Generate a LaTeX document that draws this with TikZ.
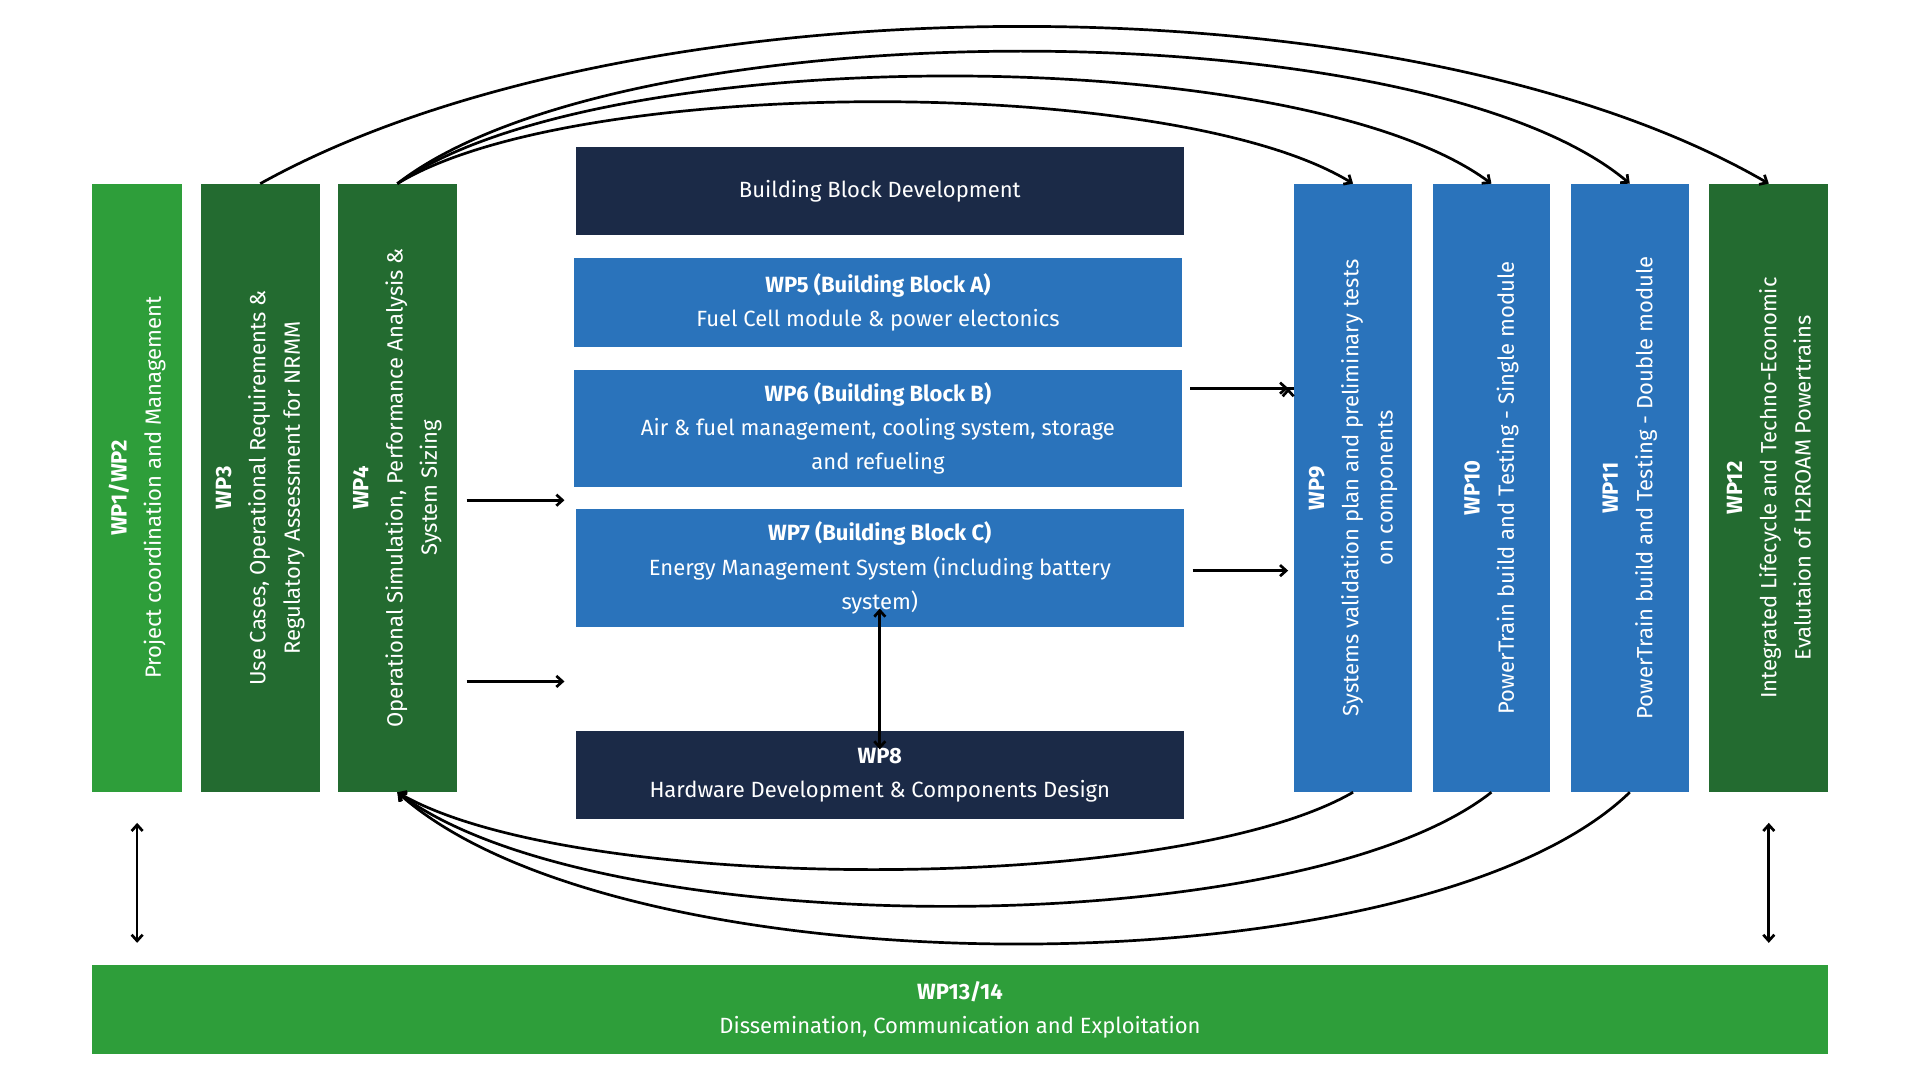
\documentclass[tikz,border=0pt]{standalone}
\usepackage{fontspec}
\setmainfont{Fira Sans}
\usetikzlibrary{arrows.meta}
\definecolor{lgreen}{HTML}{2E9E3A}
\definecolor{dgreen}{HTML}{236B30}
\definecolor{navy}{HTML}{1B2A47}
\definecolor{wblue}{HTML}{2A73BB}
\begin{document}
\begin{tikzpicture}[x=1pt,y=-1pt,
  box/.style={inner sep=0,outer sep=0,anchor=north west},
  txt/.style={text=white,align=center,font=\fontsize{18}{28}\selectfont},
  vtxt/.style={txt,rotate=90},
  arr/.style={line width=2.2pt,-{Straight Barb[length=5pt,width=9pt]}},
  darr/.style={line width=2.2pt,{Straight Barb[length=5pt,width=9pt]}-{Straight Barb[length=5pt,width=9pt]}}]
\useasboundingbox (0,0) rectangle (1568,882);
\newcommand{\bx}[6]{\node[box,fill=#6,minimum width=#3pt,minimum height=#4pt] (#5) at (#1,#2) {};}
\bx{75}{150}{74}{497}{wp1}{lgreen}
\bx{164}{150}{97}{497}{wp3}{dgreen}
\bx{276}{150}{97}{497}{wp4}{dgreen}
\bx{470}{120}{497}{72}{bbd}{navy}
\bx{469}{211}{496}{72}{wp5}{wblue}
\bx{469}{302}{496}{96}{wp6}{wblue}
\bx{470}{416}{497}{96}{wp7}{wblue}
\bx{470}{597}{497}{72}{wp8}{navy}
\bx{1057}{150}{96}{497}{wp9}{wblue}
\bx{1170}{150}{96}{497}{wp10}{wblue}
\bx{1283}{150}{96}{497}{wp11}{wblue}
\bx{1396}{150}{97}{497}{wp12}{dgreen}
\bx{75}{788}{1418}{73}{wp13}{lgreen}
\node[vtxt] (t1) at (wp1.center) {\textbf{WP1/WP2}\\Project coordination and Management};
\node[vtxt] (t3) at (wp3.center) {\textbf{WP3}\\Use Cases, Operational Requirements \&\\Regulatory Assessment for NRMM};
\node[vtxt] (t4) at (wp4.center) {\textbf{WP4}\\Operational Simulation, Performance Analysis \&\\System Sizing};
\node[txt] (tb) at (bbd.center) {Building Block Development};
\node[txt] (t5) at (wp5.center) {\textbf{WP5 (Building Block A)}\\Fuel Cell module \& power electonics};
\node[txt] (t6) at (wp6.center) {\textbf{WP6 (Building Block B)}\\Air \& fuel management, cooling system, storage\\and refueling};
\node[txt] (t7) at (wp7.center) {\textbf{WP7 (Building Block C)}\\Energy Management System (including battery\\system)};
\node[txt] (t8) at (wp8.center) {\textbf{WP8}\\Hardware Development \& Components Design};
\node[vtxt] (t9) at (wp9.center) {\textbf{WP9}\\Systems validation plan and preliminary tests\\on components};
\node[vtxt] (t10) at (wp10.center) {\textbf{WP10}\\PowerTrain build and Testing - Single module};
\node[vtxt] (t11) at (wp11.center) {\textbf{WP11}\\PowerTrain build and Testing - Double module};
\node[vtxt] (t12) at (wp12.center) {\textbf{WP12}\\Integrated Lifecycle and Techno-Economic\\Evalutaion of H2ROAM Powertrains};
\node[txt] (t13) at (wp13.center) {\textbf{WP13/14}\\Dissemination, Communication and Exploitation};
% straight arrows
\draw[arr] ([xshift=8pt,yshift=-10pt]wp4.east) -- ([xshift=-8pt,yshift=-10pt]wp4.east -| wp6.west);
\draw[arr] ([xshift=8pt,yshift=-158pt]wp4.east) -- ([xshift=-8pt,yshift=-158pt]wp4.east -| wp6.west);
\draw[arr] ([xshift=7pt]wp6.east |- 0,317) coordinate (a1) -- (a1 -| wp9.west) ++(-5pt,0);
\draw[arr] ([xshift=7pt]wp6.east |- 0,317) -- ([xshift=-5pt]wp9.west |- 0,317);
\draw[arr] ([xshift=7pt]wp7.east |- 0,466) -- ([xshift=-5pt]wp9.west |- 0,466);
\draw[darr] ([yshift=15pt]wp7.south) -- ([yshift=-15pt]wp8.north);
\draw[darr] ([yshift=-25pt]wp1.south) -- ([yshift=18pt]wp1.south |- wp13.north);
\draw[darr] ([yshift=-25pt]wp12.south) -- ([yshift=18pt]wp12.south |- wp13.north);
% top curves
\draw[arr] (wp3.north) .. controls (520,-21) and (1150,-21) .. (wp12.north);
\draw[arr] (wp4.north) .. controls (470,61) and (960,61) .. (wp9.north);
\draw[arr] (wp4.north) .. controls (490,33) and (1060,33) .. (wp10.north);
\draw[arr] (wp4.north) .. controls (510,6) and (1160,6) .. (wp11.north);
% bottom curves
\draw[arr] (wp9.south) .. controls (960,731) and (470,731) .. (wp4.south);
\draw[arr] (wp10.south) .. controls (1060,771) and (490,771) .. (wp4.south);
\draw[arr] (wp11.south) .. controls (1160,812) and (510,812) .. (wp4.south);
\end{tikzpicture}
\end{document}
